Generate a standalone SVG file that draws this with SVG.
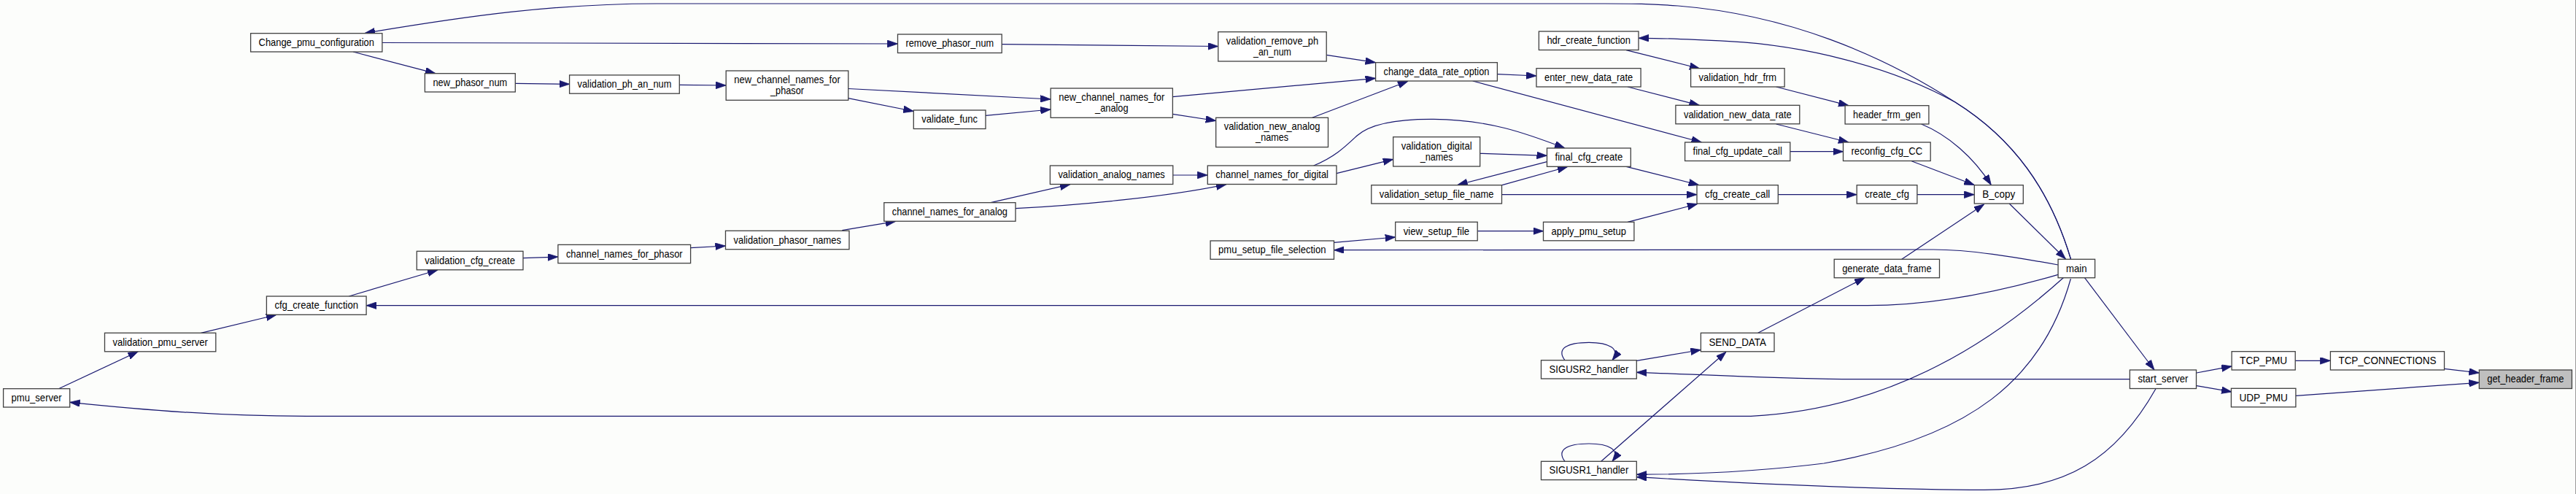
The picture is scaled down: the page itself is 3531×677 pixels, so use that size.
<svg xmlns="http://www.w3.org/2000/svg" width="3531" height="677" viewBox="0 0 3531 677">
<style>
.n rect{fill:#ffffff;stroke:#404040;stroke-width:1.3}
.n.f rect{fill:#bfbfbf}
.n text{font-family:"Liberation Sans",Arial,sans-serif;font-size:15px;fill:#000;text-anchor:middle}
#edges path{fill:none;stroke:#191970;stroke-width:1.2;marker-end:url(#arr)}
</style>
<defs>
<marker id="arr" markerUnits="userSpaceOnUse" markerWidth="14" markerHeight="10" refX="14" refY="4.8" orient="auto">
<path d="M0,0 L14,4.8 L0,9.6 Z" fill="#191970" stroke="#191970" stroke-width="0.8"/>
</marker>
</defs>
<rect x="0" y="0" width="3531" height="677" fill="#fcfdfb"/>
<line x1="3530.5" y1="0" x2="3530.5" y2="677" stroke="#9a9a9a" stroke-width="1"/>
<g id="edges">
<path d="M2838.5,355 C2810,260 2760,190 2680,140 C2580,75 2450,20 2300,8 C2260,5 2240,5 2200,5 L900,5 C760,5 640,22 500,45.5"/>
<path d="M2838.5,355 C2810,260 2760,190 2680,140 C2590,90 2470,62 2370,56.7 C2320,54 2280,52 2246,52.3"/>
<path d="M523.9,58.5 L1230.5,60"/>
<path d="M1373.2,60.7 L1669.8,63.5"/>
<path d="M484,71 L597,100.7"/>
<path d="M706.3,114.3 L780.6,115.3"/>
<path d="M931.3,116.3 L995.2,117"/>
<path d="M1162.8,121.5 L1440.2,136"/>
<path d="M1162.8,134.7 L1252.3,152.5"/>
<path d="M1351,158.3 L1440.2,150"/>
<path d="M1607.4,132.7 L1885.6,107.3"/>
<path d="M1607.4,156.3 L1666.7,165.5"/>
<path d="M1818.2,75.3 L1885.6,85.7"/>
<path d="M1798.7,161.3 L1930,111.3"/>
<path d="M1607.8,240 L1655.3,240"/>
<path d="M1358,277.7 L1467,252.7"/>
<path d="M1392,285.7 C1480,281 1600,270 1681,252.7"/>
<path d="M1154.4,315.7 L1227.8,303.3"/>
<path d="M946.6,339.7 L994.5,337"/>
<path d="M717,353.7 L764.9,352"/>
<path d="M478.3,406 L600,370"/>
<path d="M2821.1,376.3 C2740,400 2650,418.7 2560,418.7 L502.1,418.7"/>
<path d="M275.5,456.3 L378.8,431.5"/>
<path d="M80.4,532.7 L189.4,481.8"/>
<path d="M2828.8,380.3 C2740,460 2600,560 2400,570.3 L420,570.3 C300,570.3 200,562 95.7,551.3"/>
<path d="M2821.1,363 C2760,352 2700,342 2650,342 L1828.5,342.7"/>
<path d="M2838.4,382 C2800,520 2700,600 2500,635 C2420,645 2330,650 2243.3,650.3"/>
<path d="M2955,532.7 C2900,630 2830,671.3 2720,671.3 C2600,671.3 2420,664 2243.3,653.7"/>
<path d="M2919.4,519.7 L2543.7,519.7 C2450,519.7 2380,515 2243.3,510.3"/>
<path d="M2606.8,355.3 L2719.7,280"/>
<path d="M2409.7,456.3 L2556,380.7"/>
<path d="M2857.5,380.7 L2953,507"/>
<path d="M2754.2,279 L2831.5,355"/>
<path d="M2229,68.7 L2330,94"/>
<path d="M2434.6,119 L2534,144.7"/>
<path d="M2052.4,101.7 L2106,104"/>
<path d="M2231,119 L2329.5,144.3"/>
<path d="M2434.6,170 L2534,195"/>
<path d="M2018.7,111 L2332.5,195"/>
<path d="M2453.8,207.7 L2526.5,207.7"/>
<path d="M2633.6,170 C2670,185 2705,215 2729.3,253.5"/>
<path d="M2620.2,220.7 L2706.3,253.5"/>
<path d="M2437.3,266.7 L2545.2,266.7"/>
<path d="M2627.9,266.7 L2706.3,266.7"/>
<path d="M2229.2,228.3 L2328.7,253.5"/>
<path d="M2058.5,266.7 L2326,266.7"/>
<path d="M2231,304.3 L2326.8,279.5"/>
<path d="M2025.2,316.7 L2115.5,316.7"/>
<path d="M1828.5,332.3 L1912.7,325"/>
<path d="M1800.6,227 C1830,215 1845,200 1860,186 C1880,168 1920,163 1965,163.3 C2040,164 2090,182 2145,203"/>
<path d="M1832,237.7 L1909.7,218.3"/>
<path d="M2028.7,210.3 L2120.5,213.3"/>
<path d="M2120.5,221.7 L1997.7,253.5"/>
<path d="M2059,253.7 L2148.8,228.5"/>
<path d="M2145,493.7 C2133,478 2148,469.3 2178,469.3 C2205,469.3 2222,478 2210,493.7"/>
<path d="M2243.3,494.3 L2331.4,479.5"/>
<path d="M2145,632.3 C2133,616.6 2148,608 2178,608 C2205,608 2222,616.6 2210,632.3"/>
<path d="M2194.7,632.3 L2366,482.3"/>
<path d="M3010.9,511 L3059.1,502"/>
<path d="M3010.9,528.7 L3059.1,537"/>
<path d="M3146.2,494.3 L3194.4,494.3"/>
<path d="M3350.5,505.3 L3398.3,511"/>
<path d="M3147,542.3 L3398.3,524.3"/>
</g>
<g id="n_change_pmu_configuration" class="n"><rect x="343.6" y="45.7" width="180.3" height="25.3"/><text x="433.75" y="62.85" textLength="158.3" lengthAdjust="spacingAndGlyphs">Change_pmu_configuration</text></g>
<g id="n_new_phasor_num" class="n"><rect x="582.4" y="100.7" width="123.9" height="25.3"/><text x="644.35" y="117.85" textLength="101.9" lengthAdjust="spacingAndGlyphs">new_phasor_num</text></g>
<g id="n_validation_ph_an_num" class="n"><rect x="780.6" y="102.9" width="150.7" height="25.3"/><text x="855.95" y="120.05" textLength="128.7" lengthAdjust="spacingAndGlyphs">validation_ph_an_num</text></g>
<g id="n_new_channel_names_for_phasor" class="n"><rect x="995.2" y="97" width="167.6" height="40.3"/><text x="1079" y="114.15" textLength="145.6" lengthAdjust="spacingAndGlyphs">new_channel_names_for</text><text x="1079" y="129.15" textLength="46" lengthAdjust="spacingAndGlyphs">_phasor</text></g>
<g id="n_remove_phasor_num" class="n"><rect x="1230.5" y="47" width="142.7" height="25.5"/><text x="1301.85" y="64.25" textLength="120.7" lengthAdjust="spacingAndGlyphs">remove_phasor_num</text></g>
<g id="n_validation_remove_ph_an_num" class="n"><rect x="1669.8" y="43.7" width="148.4" height="40.3"/><text x="1744" y="60.85" textLength="126.4" lengthAdjust="spacingAndGlyphs">validation_remove_ph</text><text x="1744" y="75.85" textLength="52" lengthAdjust="spacingAndGlyphs">_an_num</text></g>
<g id="n_validate_func" class="n"><rect x="1252.3" y="151" width="98.7" height="25.5"/><text x="1301.65" y="168.25" textLength="76.7" lengthAdjust="spacingAndGlyphs">validate_func</text></g>
<g id="n_new_channel_names_for_analog" class="n"><rect x="1440.2" y="121" width="167.2" height="40.3"/><text x="1523.8" y="138.15" textLength="145.2" lengthAdjust="spacingAndGlyphs">new_channel_names_for</text><text x="1523.8" y="153.15" textLength="45.5" lengthAdjust="spacingAndGlyphs">_analog</text></g>
<g id="n_validation_new_analog_names" class="n"><rect x="1666.7" y="161.3" width="153.8" height="40.3"/><text x="1743.6" y="178.45" textLength="131.8" lengthAdjust="spacingAndGlyphs">validation_new_analog</text><text x="1743.6" y="193.45" textLength="45" lengthAdjust="spacingAndGlyphs">_names</text></g>
<g id="n_validation_analog_names" class="n"><rect x="1439.4" y="227" width="168.4" height="25.5"/><text x="1523.6" y="244.25" textLength="146.4" lengthAdjust="spacingAndGlyphs">validation_analog_names</text></g>
<g id="n_channel_names_for_digital" class="n"><rect x="1655.3" y="227" width="176.7" height="25.5"/><text x="1743.65" y="244.25" textLength="154.7" lengthAdjust="spacingAndGlyphs">channel_names_for_digital</text></g>
<g id="n_channel_names_for_analog" class="n"><rect x="1211.8" y="277.7" width="180.2" height="25.5"/><text x="1301.9" y="294.95" textLength="158.2" lengthAdjust="spacingAndGlyphs">channel_names_for_analog</text></g>
<g id="n_pmu_setup_file_selection" class="n"><rect x="1659.1" y="330" width="169.4" height="25.3"/><text x="1743.8" y="347.15" textLength="147.4" lengthAdjust="spacingAndGlyphs">pmu_setup_file_selection</text></g>
<g id="n_change_data_rate_option" class="n"><rect x="1885.6" y="85.7" width="166.8" height="25.3"/><text x="1969" y="102.85" textLength="144.8" lengthAdjust="spacingAndGlyphs">change_data_rate_option</text></g>
<g id="n_validation_digital_names" class="n"><rect x="1909.7" y="187.7" width="119" height="40.3"/><text x="1969.2" y="204.85" textLength="97" lengthAdjust="spacingAndGlyphs">validation_digital</text><text x="1969.2" y="219.85" textLength="45" lengthAdjust="spacingAndGlyphs">_names</text></g>
<g id="n_final_cfg_create" class="n"><rect x="2120.5" y="203" width="114.8" height="25.3"/><text x="2177.9" y="220.15" textLength="92.8" lengthAdjust="spacingAndGlyphs">final_cfg_create</text></g>
<g id="n_validation_setup_file_name" class="n"><rect x="1879.8" y="253.7" width="178.7" height="25.3"/><text x="1969.15" y="270.85" textLength="156.7" lengthAdjust="spacingAndGlyphs">validation_setup_file_name</text></g>
<g id="n_view_setup_file" class="n"><rect x="1912.7" y="304.3" width="112.5" height="25.5"/><text x="1968.95" y="321.55" textLength="90.5" lengthAdjust="spacingAndGlyphs">view_setup_file</text></g>
<g id="n_apply_pmu_setup" class="n"><rect x="2115.5" y="304.3" width="124.4" height="25.5"/><text x="2177.7" y="321.55" textLength="102.4" lengthAdjust="spacingAndGlyphs">apply_pmu_setup</text></g>
<g id="n_hdr_create_function" class="n"><rect x="2109.4" y="43" width="136.6" height="25.5"/><text x="2177.7" y="60.25" textLength="114.6" lengthAdjust="spacingAndGlyphs">hdr_create_function</text></g>
<g id="n_enter_new_data_rate" class="n"><rect x="2106" y="93.7" width="143.1" height="25.3"/><text x="2177.55" y="110.85" textLength="121.1" lengthAdjust="spacingAndGlyphs">enter_new_data_rate</text></g>
<g id="n_validation_hdr_frm" class="n"><rect x="2317.6" y="93.7" width="128.5" height="25.3"/><text x="2381.85" y="110.85" textLength="106.5" lengthAdjust="spacingAndGlyphs">validation_hdr_frm</text></g>
<g id="n_validation_new_data_rate" class="n"><rect x="2296.9" y="144.3" width="169.9" height="25.5"/><text x="2381.85" y="161.55" textLength="147.9" lengthAdjust="spacingAndGlyphs">validation_new_data_rate</text></g>
<g id="n_final_cfg_update_call" class="n"><rect x="2309.6" y="195" width="144.2" height="25.5"/><text x="2381.7" y="212.25" textLength="122.2" lengthAdjust="spacingAndGlyphs">final_cfg_update_call</text></g>
<g id="n_cfg_create_call" class="n"><rect x="2326" y="253.7" width="111.3" height="25.3"/><text x="2381.65" y="270.85" textLength="89.3" lengthAdjust="spacingAndGlyphs">cfg_create_call</text></g>
<g id="n_header_frm_gen" class="n"><rect x="2529.1" y="144.7" width="114.8" height="25.3"/><text x="2586.5" y="161.85" textLength="92.8" lengthAdjust="spacingAndGlyphs">header_frm_gen</text></g>
<g id="n_reconfig_cfg_CC" class="n"><rect x="2526.5" y="195" width="119.7" height="25.5"/><text x="2586.35" y="212.25" textLength="97.7" lengthAdjust="spacingAndGlyphs">reconfig_cfg_CC</text></g>
<g id="n_create_cfg" class="n"><rect x="2545.2" y="253.7" width="82.7" height="25.3"/><text x="2586.55" y="270.85" textLength="60.7" lengthAdjust="spacingAndGlyphs">create_cfg</text></g>
<g id="n_B_copy" class="n"><rect x="2706.3" y="253.7" width="67" height="25.3"/><text x="2739.8" y="270.85" textLength="45" lengthAdjust="spacingAndGlyphs">B_copy</text></g>
<g id="n_generate_data_frame" class="n"><rect x="2514.2" y="355.3" width="144.3" height="25.4"/><text x="2586.35" y="372.5" textLength="122.3" lengthAdjust="spacingAndGlyphs">generate_data_frame</text></g>
<g id="n_main" class="n"><rect x="2821.1" y="355.3" width="50.5" height="25.4"/><text x="2846.35" y="372.5" textLength="28.5" lengthAdjust="spacingAndGlyphs">main</text></g>
<g id="n_SEND_DATA" class="n"><rect x="2331.4" y="456.3" width="100.6" height="25.5"/><text x="2381.7" y="473.55" textLength="78.6" lengthAdjust="spacingAndGlyphs">SEND_DATA</text></g>
<g id="n_SIGUSR2_handler" class="n"><rect x="2112.5" y="493.7" width="130.8" height="25.3"/><text x="2177.9" y="510.85" textLength="108.8" lengthAdjust="spacingAndGlyphs">SIGUSR2_handler</text></g>
<g id="n_SIGUSR1_handler" class="n"><rect x="2112.5" y="632.3" width="130.8" height="25.3"/><text x="2177.9" y="649.45" textLength="108.8" lengthAdjust="spacingAndGlyphs">SIGUSR1_handler</text></g>
<g id="n_start_server" class="n"><rect x="2919.4" y="507" width="91.1" height="25.5"/><text x="2964.95" y="524.25" textLength="69.1" lengthAdjust="spacingAndGlyphs">start_server</text></g>
<g id="n_TCP_PMU" class="n"><rect x="3059.1" y="481.7" width="87.1" height="25.3"/><text x="3102.65" y="498.85" textLength="65.1" lengthAdjust="spacingAndGlyphs">TCP_PMU</text></g>
<g id="n_UDP_PMU" class="n"><rect x="3058.4" y="532.3" width="88.5" height="25.5"/><text x="3102.65" y="549.55" textLength="66.5" lengthAdjust="spacingAndGlyphs">UDP_PMU</text></g>
<g id="n_TCP_CONNECTIONS" class="n"><rect x="3194.4" y="481.7" width="156.1" height="25.3"/><text x="3272.45" y="498.85" textLength="134.1" lengthAdjust="spacingAndGlyphs">TCP_CONNECTIONS</text></g>
<g id="n_get_header_frame" class="n f"><rect x="3398.3" y="507" width="127.1" height="25.5"/><text x="3461.85" y="524.25" textLength="105.1" lengthAdjust="spacingAndGlyphs">get_header_frame</text></g>
<g id="n_pmu_server" class="n"><rect x="4.6" y="532.7" width="91.1" height="25.3"/><text x="50.15" y="549.85" textLength="69.1" lengthAdjust="spacingAndGlyphs">pmu_server</text></g>
<g id="n_validation_pmu_server" class="n"><rect x="143.5" y="456.3" width="152.3" height="25.5"/><text x="219.65" y="473.55" textLength="130.3" lengthAdjust="spacingAndGlyphs">validation_pmu_server</text></g>
<g id="n_cfg_create_function" class="n"><rect x="365.4" y="406" width="136.7" height="25.3"/><text x="433.75" y="423.15" textLength="114.7" lengthAdjust="spacingAndGlyphs">cfg_create_function</text></g>
<g id="n_validation_cfg_create" class="n"><rect x="571.3" y="344.3" width="145.7" height="25.5"/><text x="644.15" y="361.55" textLength="123.7" lengthAdjust="spacingAndGlyphs">validation_cfg_create</text></g>
<g id="n_channel_names_for_phasor" class="n"><rect x="764.9" y="335.4" width="181.7" height="25.3"/><text x="855.75" y="352.55" textLength="159.7" lengthAdjust="spacingAndGlyphs">channel_names_for_phasor</text></g>
<g id="n_validation_phasor_names" class="n"><rect x="994.5" y="316.3" width="169.5" height="25.4"/><text x="1079.25" y="333.5" textLength="147.5" lengthAdjust="spacingAndGlyphs">validation_phasor_names</text></g>
</svg>
